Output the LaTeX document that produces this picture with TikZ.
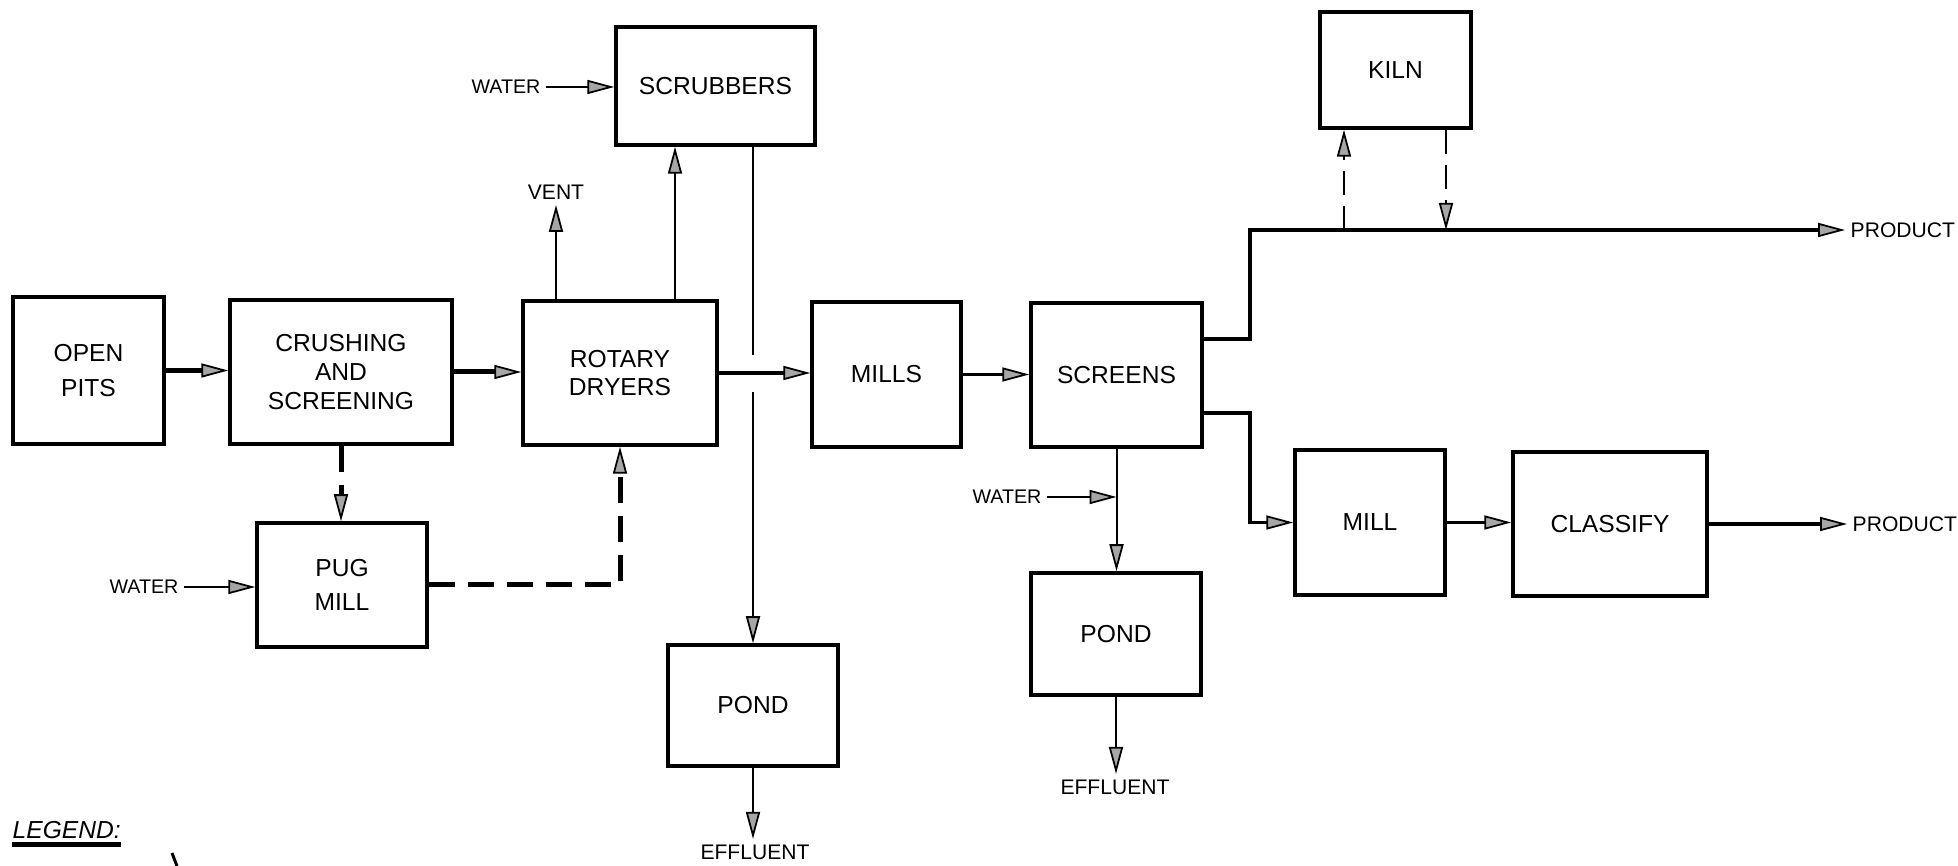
\documentclass[tikz,border=0pt]{standalone}
\usepackage{fontspec}
\setmainfont{Liberation Sans}
\usetikzlibrary{arrows.meta}
\tikzset{
  box/.style={draw, line width=0.35mm, inner sep=0pt, align=center,
    font=\fontsize{7}{8.2}\selectfont},
  lbl/.style={inner sep=0.5mm, font=\fontsize{6}{7}\selectfont},
  wlbl/.style={inner sep=0.5mm, font=\fontsize{5.6}{7}\selectfont},
  tip/.style={-{Triangle[length=2.7mm,width=1.4mm,fill=gray!70,line width=0.5pt]}},
  heavy/.style={line width=0.5mm},
  medium/.style={line width=0.35mm},
  light/.style={line width=0.2mm},
  heavydash/.style={line width=0.5mm, dash pattern=on 2.6mm off 1.3mm},
  lightdash/.style={line width=0.2mm, dash pattern=on 2.4mm off 1.1mm},
}
\begin{document}
\begin{tikzpicture}[x=0.1mm,y=-0.1mm]
\useasboundingbox (0,0) rectangle (1958,866);

% boxes
\node[box, minimum width=15.1mm, minimum height=14.7mm] (open) at (88.5,370.5) {OPEN\\[1.6pt]PITS};
\node[box, minimum width=22.2mm, minimum height=14.4mm] (crush) at (341,372) {CRUSHING\\AND\\SCREENING};
\node[box, minimum width=17mm, minimum height=12.4mm] (pug) at (342,585) {PUG\\[1.6pt]MILL};
\node[box, minimum width=19.4mm, minimum height=14.4mm] (rotary) at (620,373) {ROTARY\\DRYERS};
\node[box, minimum width=19.9mm, minimum height=11.8mm] (scrub) at (715.5,86) {SCRUBBERS};
\node[box, minimum width=14.9mm, minimum height=14.5mm] (mills) at (886.5,374.5) {MILLS};
\node[box, minimum width=17.1mm, minimum height=14.4mm] (screens) at (1116.5,375) {SCREENS};
\node[box, minimum width=17mm, minimum height=12.1mm] (pond1) at (753,705.5) {POND};
\node[box, minimum width=17mm, minimum height=12.2mm] (pond2) at (1116,634) {POND};
\node[box, minimum width=15.1mm, minimum height=11.6mm] (kiln) at (1395.5,70) {KILN};
\node[box, minimum width=15mm, minimum height=14.5mm] (mill) at (1370,522.5) {MILL};
\node[box, minimum width=19.4mm, minimum height=14.4mm] (classify) at (1610,524) {CLASSIFY};

% labels
\node[wlbl] (w1) at (144,587) {WATER};
\node[wlbl] (w2) at (506,87) {WATER};
\node[wlbl] (w3) at (1007,497) {WATER};
\node[lbl] (vent) at (556,192) {VENT};
\node[lbl] (eff1) at (755,852) {EFFLUENT};
\node[lbl] (eff2) at (1115,787) {EFFLUENT};
\node[lbl, anchor=west] (prod1) at (1845,230) {PRODUCT};
\node[lbl, anchor=west] (prod2) at (1847,524) {PRODUCT};
\node[anchor=west, inner sep=0pt, font=\fontsize{7}{8}\selectfont\itshape] (legend) at (12,830) {LEGEND:};
\draw[line width=0.45mm] ([yshift=-0.5mm]legend.south west) -- ([yshift=-0.5mm]legend.south east);
\draw[line width=0.3mm] (172,853) -- (177,866);

% helper coordinates
\coordinate (rs) at (675,0);
\coordinate (jt) at (1250,230);
\coordinate (k1) at (1344,230);
\coordinate (k2) at (1446,230);
\coordinate (s1) at ([yshift=3.6mm]screens.east);
\coordinate (s2) at ([yshift=-3.8mm]screens.east);
\coordinate (cx) at (pond1.north |- rotary.east);

% main flow
\draw[heavy,tip] (open.east) -- (open.east -| crush.west);
\draw[heavy,tip] (crush.east) -- (crush.east -| rotary.west);
\draw[heavydash,tip] (crush.south) -- (crush.south |- pug.north);
\draw[heavydash,tip] (pug.east) -| (rotary.south);
\draw[light,tip] (w1.east) -- (w1.east -| pug.west);
\draw[light,tip] (w2.east) -- (w2.east -| scrub.west);
\draw[light,tip] (rotary.north -| vent.south) -- (vent.south);
\draw[light,tip] (rs |- rotary.north) -- (rs |- scrub.south);
\draw[medium,tip] (rotary.east) -- (rotary.east -| mills.west);
\draw[light] (pond1.north |- scrub.south) -- ([yshift=1.8mm]cx);
\draw[light,tip] ([yshift=-1.9mm]cx) -- (pond1.north);
\draw[light,tip] (pond1.south) -- (pond1.south |- eff1.north);
\draw[medium,tip] (mills.east) -- (mills.east -| screens.west);
\draw[light,tip] (screens.south) -- (screens.south |- pond2.north);
\draw[light,tip] (w3.east) -- (w3.east -| screens.south);
\draw[light,tip] (pond2.south) -- (pond2.south |- eff2.north);

% product branches
\draw[medium,tip] (s1) -- (s1 -| jt) -- (jt) -- (jt -| prod1.west);
\draw[medium,tip] (s2) -- (s2 -| jt) |- (mill.west);
\draw[lightdash,tip] (k1) -- (k1 |- kiln.south);
\draw[lightdash,tip] (k2 |- kiln.south) -- (k2);
\draw[medium,tip] (mill.east) -- (mill.east -| classify.west);
\draw[medium,tip] (classify.east) -- (classify.east -| prod2.west);
\end{tikzpicture}
\end{document}
